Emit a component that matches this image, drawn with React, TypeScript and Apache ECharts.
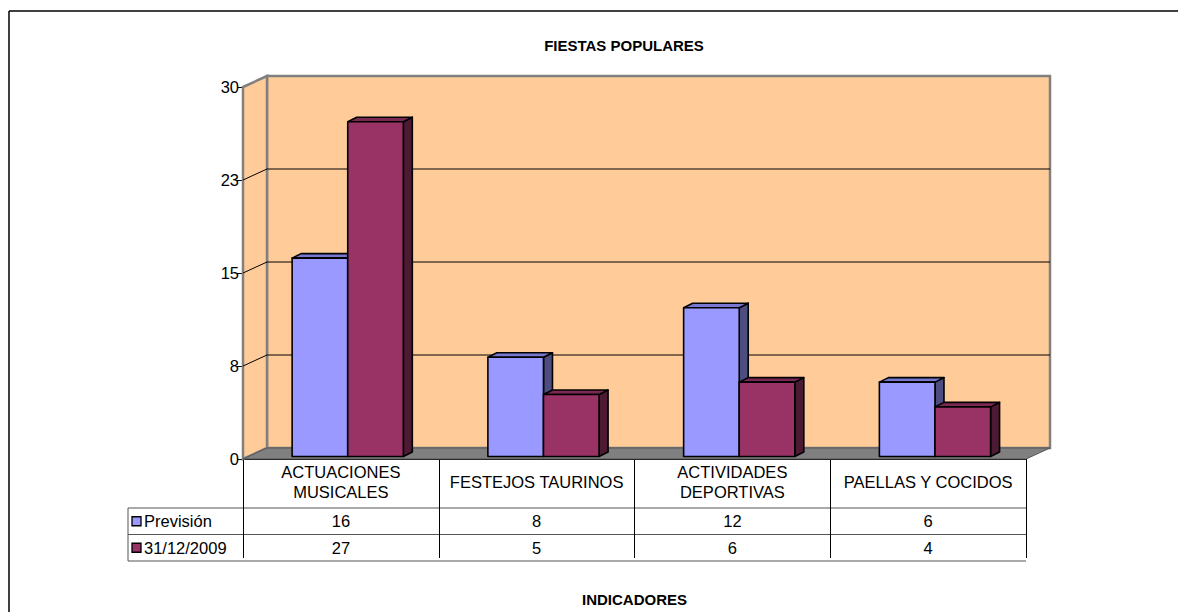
import React, { useEffect, useRef } from "react";
import * as echarts from "echarts";

// ---------- data ----------
const chartTitle = "FIESTAS POPULARES";
const xAxisTitle = "INDICADORES";
const categories = [
  "ACTUACIONES\nMUSICALES",
  "FESTEJOS TAURINOS",
  "ACTIVIDADES\nDEPORTIVAS",
  "PAELLAS Y COCIDOS",
];
const seriesNames = ["Previsión", "31/12/2009"];
const prevision = [16, 8, 12, 6];
const realizado = [27, 5, 6, 4];
const yTickValues = [0, 7.5, 15, 22.5, 30];
const yTickLabels = ["0", "8", "15", "23", "30"];

// ---------- styles / layout ----------
const FONT = "Arial, 'Liberation Sans', sans-serif";
const TEXT_SIZE = 16.5;
const GX = 243;
const GY = 87;
const GW = 783;
const GH = 375;
const WALL_DX = 24;
const WALL_DY = 11;
const BAR_DX = 9;
const BAR_DY = 4.5;
const BAR_SHIFT_Y = 2.5;
const WALL_FILL = "#FFCC99";
const WALL_STROKE = "#808080";
const FLOOR_FILL = "#808080";

const palettes = [
  { front: "#9999FF", top: "#7878D0", side: "#4D4D80" },
  { front: "#993366", top: "#7A2952", side: "#4D1A33" },
];

// table rows
const HEADER_BOTTOM = 508;
const ROW_H = 26.5;
const LEGEND_LEFT = 128;

function makeBarRenderer(s: number) {
  const pal = palettes[s];
  return (params: any, api: any) => {
    const idx = api.value(0);
    const v = api.value(1);
    const top = api.coord([idx, v]);
    const base = api.coord([idx, 0]);
    const cw = api.size([1, 0])[0];
    const bw = cw * 0.284;
    const mid = top[0] + cw * 0.035;
    const x0 = s === 0 ? mid - bw : mid;
    const x1 = x0 + bw;
    const yT = top[1] - BAR_SHIFT_Y;
    const yB = base[1] - BAR_SHIFT_Y;
    const line = { stroke: "#000", lineWidth: 1.6, lineJoin: "round" };
    return {
      type: "group",
      children: [
        {
          type: "polygon",
          shape: {
            points: [
              [x1, yT],
              [x1 + BAR_DX, yT - BAR_DY],
              [x1 + BAR_DX, yB - BAR_DY],
              [x1, yB],
            ],
          },
          style: { fill: pal.side, ...line },
        },
        {
          type: "polygon",
          shape: {
            points: [
              [x0, yT],
              [x0 + BAR_DX, yT - BAR_DY],
              [x1 + BAR_DX, yT - BAR_DY],
              [x1, yT],
            ],
          },
          style: { fill: pal.top, ...line },
        },
        {
          type: "rect",
          shape: { x: x0, y: yT, width: bw, height: yB - yT },
          style: { fill: pal.front, ...line },
        },
      ],
    };
  };
}

function renderWalls(params: any) {
  const cs = params.coordSys;
  const x = cs.x;
  const y = cs.y;
  const w = cs.width;
  const h = cs.height;
  return {
    type: "group",
    children: [
      {
        type: "rect",
        shape: { x: x + WALL_DX, y: y - WALL_DY, width: w, height: h },
        style: { fill: WALL_FILL, stroke: WALL_STROKE, lineWidth: 2.5 },
      },
      {
        type: "polygon",
        shape: {
          points: [
            [x, y],
            [x + WALL_DX, y - WALL_DY],
            [x + WALL_DX, y + h - WALL_DY],
            [x, y + h],
          ],
        },
        style: { fill: WALL_FILL, stroke: WALL_STROKE, lineWidth: 2.5 },
      },
      {
        type: "polygon",
        shape: {
          points: [
            [x, y + h],
            [x + WALL_DX, y + h - WALL_DY],
            [x + w + WALL_DX, y + h - WALL_DY],
            [x + w, y + h],
          ],
        },
        style: { fill: FLOOR_FILL, stroke: "#555", lineWidth: 1 },
      },
    ],
  };
}

function renderGridLine(params: any, api: any) {
  const v = api.value(1);
  if (v <= yTickValues[0] || v >= yTickValues[yTickValues.length - 1]) return null;
  const cs = params.coordSys;
  const y = api.coord([0, v])[1];
  return {
    type: "polyline",
    shape: {
      points: [
        [cs.x, y],
        [cs.x + WALL_DX, y - WALL_DY],
        [cs.x + cs.width + WALL_DX, y - WALL_DY],
      ],
    },
    style: { stroke: "#000", lineWidth: 1, fill: null },
  };
}

export default function App() {
  const ref = useRef<HTMLDivElement>(null);

  useEffect(() => {
    if (!ref.current) return;
    const chart = echarts.init(ref.current, null, { renderer: "svg" });

    const colCenters = categories.map((_, i) => GX + (i + 0.5) * (GW / categories.length));
    const values = [prevision, realizado];
    const tableGraphics: any[] = [];

    // horizontal table lines
    [HEADER_BOTTOM, HEADER_BOTTOM + ROW_H, HEADER_BOTTOM + 2 * ROW_H].forEach((yy) => {
      tableGraphics.push({
        type: "line",
        shape: { x1: LEGEND_LEFT, y1: yy, x2: GX + GW, y2: yy },
        style: { stroke: "#555", lineWidth: 1 },
      });
    });
    tableGraphics.push({
      type: "line",
      shape: { x1: LEGEND_LEFT, y1: HEADER_BOTTOM, x2: LEGEND_LEFT, y2: HEADER_BOTTOM + 2 * ROW_H },
      style: { stroke: "#555", lineWidth: 1 },
    });

    seriesNames.forEach((name, s) => {
      const cy = HEADER_BOTTOM + ROW_H * (s + 0.5);
      tableGraphics.push({
        type: "rect",
        shape: { x: LEGEND_LEFT + 4, y: cy - 4.5, width: 9, height: 9 },
        style: { fill: palettes[s].front, stroke: "#000", lineWidth: 1.3 },
      });
      tableGraphics.push({
        type: "text",
        x: LEGEND_LEFT + 16,
        y: cy,
        style: {
          text: name,
          font: `${TEXT_SIZE}px ${FONT}`,
          fill: "#000",
          textAlign: "left",
          textVerticalAlign: "middle",
        },
      });
      values[s].forEach((v, i) => {
        tableGraphics.push({
          type: "text",
          x: colCenters[i],
          y: cy,
          style: {
            text: String(v),
            font: `${TEXT_SIZE}px ${FONT}`,
            fill: "#000",
            textAlign: "center",
            textVerticalAlign: "middle",
          },
        });
      });
    });

    const option: any = {
      animation: false,
      backgroundColor: "#fff",
      title: {
        text: chartTitle,
        left: 619,
        top: 33,
        textAlign: "center",
        textStyle: { fontFamily: FONT, fontSize: 15, fontWeight: "bold", color: "#000" },
      },
      grid: { left: GX, top: GY, width: GW, height: GH, containLabel: false },
      xAxis: {
        type: "category",
        data: categories,
        boundaryGap: true,
        name: xAxisTitle,
        nameLocation: "middle",
        nameGap: 133,
        nameTextStyle: { fontFamily: FONT, fontSize: 15, fontWeight: "bold", color: "#000" },
        axisLine: { show: true, lineStyle: { color: "#000", width: 1 } },
        axisTick: {
          show: true,
          interval: 0,
          alignWithLabel: false,
          length: 99,
          lineStyle: { color: "#000", width: 1 },
        },
        axisLabel: {
          interval: 0,
          margin: 23,
          verticalAlign: "middle",
          fontFamily: FONT,
          fontSize: TEXT_SIZE,
          lineHeight: 20,
          color: "#000",
        },
        splitLine: { show: false },
      },
      yAxis: {
        type: "value",
        min: 0,
        max: 30,
        interval: 7.5,
        axisLine: { show: false },
        axisTick: { show: true, length: 6, lineStyle: { color: "#000", width: 1 } },
        axisLabel: {
          margin: 4,
          fontFamily: FONT,
          fontSize: TEXT_SIZE,
          color: "#000",
          formatter: (v: number) => {
            const k = yTickValues.indexOf(v);
            return k >= 0 ? yTickLabels[k] : String(v);
          },
        },
        splitLine: { show: false },
      },
      graphic: [
        {
          type: "line",
          shape: { x1: 9, y1: 11, x2: 1178, y2: 11 },
          style: { stroke: "#000", lineWidth: 1.5 },
          z: 0,
        },
        {
          type: "line",
          shape: { x1: 9, y1: 11, x2: 9, y2: 612 },
          style: { stroke: "#000", lineWidth: 1.5 },
          z: 0,
        },
        ...tableGraphics,
      ],
      series: [
        {
          type: "custom",
          name: "walls",
          renderItem: renderWalls,
          data: [[0, 0]],
          z: 1,
          silent: true,
        },
        {
          type: "custom",
          name: "gridlines",
          renderItem: renderGridLine,
          data: yTickValues.map((v) => [0, v]),
          z: 2,
          silent: true,
        },
        {
          type: "custom",
          name: seriesNames[0],
          renderItem: makeBarRenderer(0),
          data: prevision.map((v, i) => [i, v]),
          encode: { x: 0, y: 1 },
          z: 3,
        },
        {
          type: "custom",
          name: seriesNames[1],
          renderItem: makeBarRenderer(1),
          data: realizado.map((v, i) => [i, v]),
          encode: { x: 0, y: 1 },
          z: 4,
        },
      ],
    };

    chart.setOption(option);
    return () => chart.dispose();
  }, []);

  return (
    <div
      ref={ref}
      style={{ position: "fixed", left: 0, top: 0, width: 1178, height: 612, background: "#fff" }}
    />
  );
}
